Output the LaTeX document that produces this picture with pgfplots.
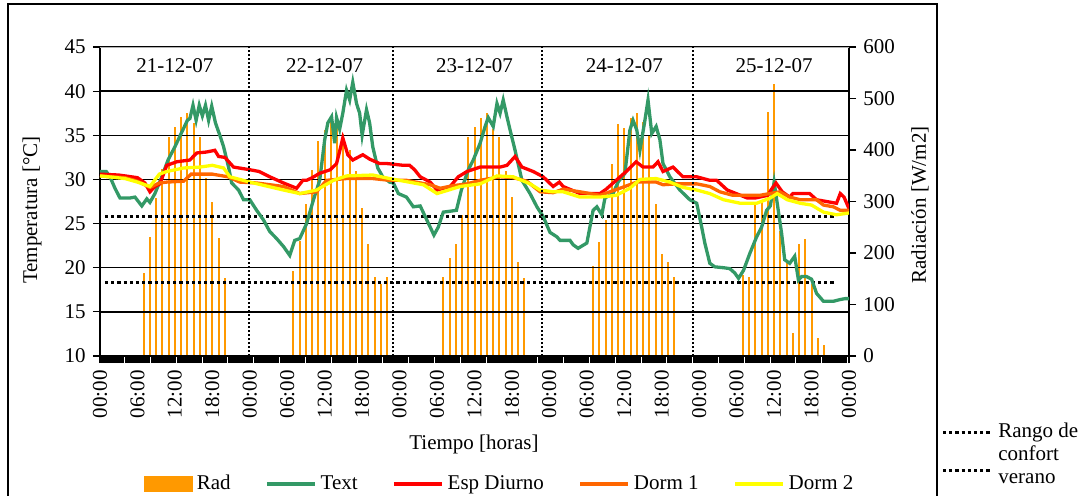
\documentclass[border=0pt]{standalone}
\usepackage{fontspec}
\setmainfont{Liberation Serif}
\usepackage{pgfplots}
\pgfplotsset{compat=1.18}
\definecolor{radc}{HTML}{FF9900}
\definecolor{textc}{HTML}{339966}
\definecolor{espc}{HTML}{FF0000}
\definecolor{donec}{HTML}{FF6600}
\definecolor{dtwoc}{HTML}{FFFF00}
\begin{document}
\fontsize{10.5}{12.6}\selectfont
\begin{tikzpicture}[x=1pt,y=1pt]
\path[use as bounding box] (-50,-69.5) rectangle (495.5,178);
\draw[line width=0.75pt] (-46,-80) -- (-46,176) -- (418.5,176) -- (418.5,-80);
% secondary axis: radiation
\begin{axis}[at={(0,0)}, anchor=south west, scale only axis,
  width=374.5pt, height=154.5pt,
  xmin=0, xmax=120, ymin=0, ymax=600,
  axis x line=none, axis y line*=right,
  ytick={0,100,...,600},
  tick align=outside, major tick length=3.5pt,
  every tick/.style={black, line width=0.6pt},
  axis line style={line width=1pt},
  /pgf/number format/assume math mode=true,
  yticklabel style={font=\fontsize{10.5}{12}\selectfont},
  ylabel={Radiación [W/m2]},
  ylabel style={at={(axis description cs:1.0948,0.489)}, anchor=center, font=\fontsize{10.5}{12}\selectfont},
]
\addplot[ycomb, radc, line width=1pt, mark=none] coordinates {
(7,162)(8,232)(9,306)(10,364)(11,425)(12,445)(13,465)(14,471)(15,452)(16,425)(17,345)(18,300)(19,230)(20,151)
(31,165)(32,224)(33,295)(34,361)(35,417)(36,439)(37,455)(38,445)(39,432)(40,400)(41,360)(42,288)(43,217)(44,153)(45,140)(46,153)
(55,153)(56,190)(57,217)(58,274)(59,425)(60,445)(61,463)(62,471)(63,440)(64,425)(65,360)(66,309)(67,183)(68,151)
(79,175)(80,221)(81,265)(82,373)(83,450)(84,442)(85,463)(86,471)(87,454)(88,428)(89,296)(90,199)(91,182)(92,153)
(103,158)(104,153)(105,295)(106,303)(107,473)(108,528)(109,243)(110,180)(111,44)(112,217)(113,228)(114,140)(115,35)(116,21)
};
\end{axis}
% primary axis: temperature
\begin{axis}[at={(0,0)}, anchor=south west, scale only axis,
  width=374.5pt, height=154.5pt,
  xmin=0, xmax=120, ymin=10, ymax=45,
  axis x line*=bottom, axis y line*=left,
  xtick={0,6,...,120},
  xticklabels={00:00,06:00,12:00,18:00,00:00,06:00,12:00,18:00,00:00,06:00,12:00,18:00,00:00,06:00,12:00,18:00,00:00,06:00,12:00,18:00,00:00},
  minor x tick num=35,
  ytick={10,15,...,45},
  ymajorgrids, major grid style={black, line width=0.75pt},
  tick align=outside, major tick length=3.5pt, minor tick length=3.5pt,
  every tick/.style={black, line width=0.6pt},
  every minor tick/.style={black, line width=0.45pt},
  axis line style={line width=1pt},
  /pgf/number format/assume math mode=true,
  tick label style={font=\fontsize{10.5}{12}\selectfont},
  x tick label style={rotate=90, anchor=east},
  xlabel={Tiempo [horas]},
  xlabel style={at={(axis description cs:0.4993,-0.285)}, anchor=center, font=\fontsize{10.5}{12}\selectfont},
  ylabel={Temperatura [°C]},
  ylabel style={at={(axis description cs:-0.0908,0.472)}, anchor=center, font=\fontsize{10.5}{12}\selectfont},
  legend columns=5,
  legend style={draw=none, fill=none, at={(0.535,-0.414)}, anchor=center,
    font=\fontsize{10.5}{12}\selectfont,
    /tikz/every even column/.append style={column sep=15.25pt},
    /tikz/every odd column/.append style={column sep=0pt}},
  legend image code/.code={\draw[#1, line width=1.75pt] (0pt,0pt) -- (24pt,0pt);},
]
\addlegendimage{legend image code/.code={\fill[radc] (0pt,-3.75pt) rectangle (24pt,3.75pt);}}
\addlegendentry{Rad}
% comfort range
\addplot[forget plot, black, line width=1.6pt, dash pattern=on 1.6pt off 1.5pt] coordinates {(0.8,25.8)(118.0,25.8)};
\addplot[forget plot, black, line width=1.6pt, dash pattern=on 1.6pt off 1.5pt] coordinates {(0.8,18.35)(118.0,18.35)};
% Text
\addplot[textc, line width=1.65pt, mark=none] coordinates {
(0,30.9)(1.0,30.9)(1.6,30.3)(2.4,29.0)(3.2,27.9)(4.8,27.9)(5.6,28.0)(6.7,27.0)(7.5,27.8)(8.0,27.4)(8.8,28.4)(9.9,30.3)(10.9,32.2)(12.0,33.7)(13.0,35.2)(14.0,36.7)(14.4,36.9)(14.9,38.4)(15.4,36.7)(15.9,38.4)(16.4,37.2)(16.9,38.4)(17.4,36.7)(17.9,38.3)(18.5,36.4)(19.3,34.8)(19.8,33.7)(20.6,31.4)(21.1,29.6)(22.2,28.8)(23.0,27.7)(24.0,27.7)(25.1,26.5)(26.2,25.4)(27.2,24.1)(28.3,23.3)(29.4,22.4)(30.4,21.4)(31.2,23.1)(32.0,23.3)(33.1,25.0)(34.2,27.7)(35.2,29.9)(36.0,34.5)(36.5,36.4)(37.1,37.1)(37.6,34.1)(37.9,37.0)(38.4,35.7)(38.9,37.5)(39.5,40.1)(40.0,39.0)(40.5,41.0)(41.1,38.6)(41.6,37.5)(42.0,35.0)(42.7,37.9)(43.2,36.4)(43.7,33.7)(44.5,31.3)(45.3,30.3)(46.4,29.7)(47.0,29.6)(47.8,28.4)(49.1,28.0)(50.2,26.9)(51.3,27.0)(52.1,25.8)(52.9,24.6)(53.5,23.7)(54.2,24.6)(55.0,26.3)(56.1,26.4)(57.1,26.5)(57.9,28.8)(59.0,31.1)(59.8,32.2)(60.9,34.1)(61.7,36.0)(62.2,37.0)(63.0,36.0)(63.6,38.6)(64.1,37.5)(64.6,39.0)(65.2,37.1)(65.7,35.6)(66.5,33.3)(67.6,29.9)(68.9,28.4)(70.0,26.9)(71.0,25.8)(72.1,24.0)(73.2,23.5)(73.7,23.1)(75.3,23.1)(75.8,22.6)(76.6,22.2)(78.0,22.8)(79.0,26.5)(79.6,26.9)(80.4,26.0)(80.9,27.9)(82.2,28.4)(83.0,29.7)(84.1,30.7)(84.9,35.6)(85.4,36.7)(86.0,35.6)(86.5,33.3)(87.3,36.7)(87.8,39.0)(88.4,35.2)(89.1,36.0)(89.7,34.5)(90.2,31.8)(91.3,30.3)(92.9,28.8)(94.5,27.7)(95.6,27.3)(96.4,24.6)(96.9,22.8)(97.7,20.5)(98.5,20.1)(99.9,20.0)(100.9,19.9)(101.7,19.4)(102.3,18.8)(103.1,19.7)(104.1,21.6)(105.2,23.5)(106.0,24.6)(106.8,26.5)(107.4,27.0)(108.0,29.7)(108.5,27.3)(109.2,23.9)(109.7,20.9)(110.5,20.5)(111.3,21.3)(111.9,18.6)(112.4,19.0)(113.2,19.0)(114.0,18.7)(114.8,17.1)(115.9,16.2)(117.5,16.2)(118.6,16.4)(119.4,16.5)(120,16.5)
};
\addlegendentry{Text}
% Esp Diurno
\addplot[espc, line width=1.65pt, mark=none] coordinates {
(0,30.6)(3,30.5)(6,30.2)(7.2,29.6)(8.0,28.6)(8.8,29.2)(9.6,29.5)(10.7,31.6)(12.3,32.0)(14.4,32.2)(15.5,33.0)(17.0,33.1)(18.4,33.3)(19.0,32.6)(20.0,32.5)(21.4,31.4)(24.0,31.1)(25.5,30.9)(27.2,30.3)(29.4,29.6)(31.5,29.0)(32.5,29.9)(33.1,29.9)(34.0,30.2)(35.2,30.7)(36.9,31.1)(37.9,31.8)(38.5,33.5)(38.9,34.7)(39.7,32.8)(40.5,32.2)(42.1,32.8)(43.2,32.3)(44.8,31.8)(46.0,31.8)(48.6,31.6)(49.6,31.6)(50.4,31.1)(51.3,30.3)(52.9,29.7)(54.0,28.8)(56.1,29.2)(57.4,30.3)(58.8,30.9)(60.9,31.4)(64.1,31.4)(65.2,31.6)(66.5,32.6)(67.6,31.4)(69.4,30.9)(71.0,30.3)(72.6,29.2)(73.6,29.7)(74.2,29.2)(76.9,28.4)(80.1,28.4)(81.1,28.9)(82.7,29.9)(84.3,30.9)(85.9,32.0)(87.0,31.4)(88.6,31.4)(89.4,32.0)(90.2,30.9)(91.8,31.4)(93.4,30.3)(95.6,30.3)(97.7,29.9)(98.8,29.9)(100.5,28.8)(103.7,27.9)(105.0,27.9)(107.0,28.2)(107.5,28.8)(108.3,29.6)(109.3,28.6)(110.5,28.0)(111.0,28.4)(113.7,28.4)(114.8,27.7)(118.0,27.3)(118.6,28.4)(119.2,28.0)(120,26.7)
};
\addlegendentry{Esp Diurno}
% Dorm 1
\addplot[donec, line width=1.65pt, mark=none] coordinates {
(0,30.4)(4,30.2)(6,29.8)(8.0,29.1)(9.5,29.6)(10.7,29.7)(13.4,29.8)(14.6,30.6)(18,30.6)(20.5,30.3)(22.4,29.7)(25.1,29.6)(29.4,29.2)(32.0,28.4)(34.7,28.6)(36.3,29.9)(39.5,30.1)(43.7,30.1)(46.4,29.9)(49.1,29.9)(52.9,29.4)(54.5,29.0)(56.6,29.3)(58.8,29.5)(60.9,29.9)(64.1,30.3)(66.2,30.2)(68.4,29.8)(70.5,28.6)(72.6,28.5)(74.2,28.9)(76.9,28.6)(80.1,28.2)(83.3,29.0)(86.0,29.7)(89.1,29.7)(90.2,29.4)(92.4,29.5)(95.6,29.5)(97.7,29.2)(99.3,28.6)(101.4,28.2)(105.7,28.2)(108.9,28.6)(110.5,28.0)(112.2,27.7)(114.8,27.7)(115.9,27.1)(117.5,26.9)(118.6,26.5)(120,26.5)
};
\addlegendentry{Dorm 1}
% Dorm 2
\addplot[dtwoc, line width=1.65pt, mark=none] coordinates {
(0,30.4)(4,30.1)(6,29.7)(8.0,29.2)(9.5,30.6)(10.7,30.9)(13.4,31.3)(16.0,31.4)(18.0,31.6)(19.8,31.3)(20.8,30.3)(24.0,29.7)(29.4,28.8)(32.0,28.4)(34.7,28.8)(37.4,29.9)(39.5,30.4)(43.7,30.5)(46.4,30.1)(51.8,29.4)(54.0,28.4)(57.7,29.2)(60.9,29.5)(63.6,30.4)(66.2,30.3)(68.9,29.5)(70.5,28.8)(72.6,28.6)(74.2,28.6)(76.9,28.0)(80.1,28.0)(82.7,28.2)(84.9,29.0)(86.5,30.0)(89.1,30.1)(91.3,29.7)(93.4,29.1)(95.6,28.8)(97.7,28.4)(99.9,27.7)(102.6,27.3)(105.2,27.3)(107.4,27.9)(108.5,28.4)(110.1,27.7)(112.2,27.3)(114.0,27.1)(115.9,26.3)(118.0,26.0)(120,26.2)
};
\addlegendentry{Dorm 2}
% decorations
\draw[gray!60, line width=0.9pt] (axis cs:0,45) -- (axis cs:120,45);
\pgfplotsinvokeforeach{23.9,47.0,70.8,95.0}{
  \draw[black, line width=1pt, dash pattern=on 1pt off 1pt] (axis cs:#1,10) -- (axis cs:#1,45);
}
\node at (axis cs:12,42.85) {21-12-07};
\node at (axis cs:36,42.85) {22-12-07};
\node at (axis cs:60,42.85) {23-12-07};
\node at (axis cs:84,42.85) {24-12-07};
\node at (axis cs:108,42.85) {25-12-07};
\end{axis}
% external legend for comfort range
\draw[black, line width=1.6pt, dash pattern=on 1.6pt off 1.5pt] (421.5,-38.3) -- (446,-38.3);
\draw[black, line width=1.6pt, dash pattern=on 1.6pt off 1.5pt] (421.5,-57.3) -- (446,-57.3);
\node[anchor=base west, inner sep=0pt] at (449,-40.5) {Rango de};
\node[anchor=base west, inner sep=0pt] at (449,-52) {confort};
\node[anchor=base west, inner sep=0pt] at (449,-63.5) {verano};
\end{tikzpicture}
\end{document}
